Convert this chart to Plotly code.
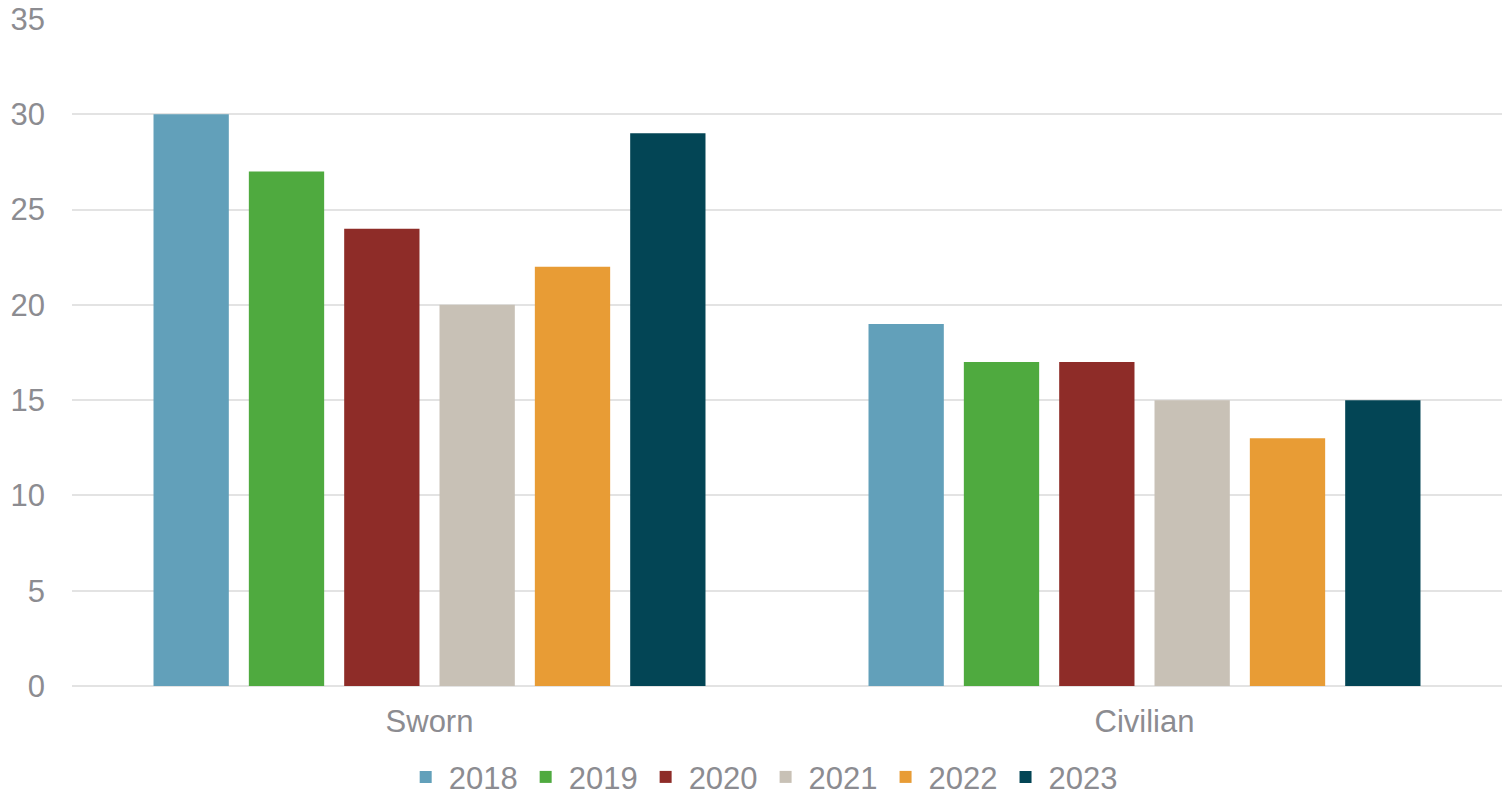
import plotly.graph_objects as go

categories = ["Sworn", "Civilian"]
years = ["2018", "2019", "2020", "2021", "2022", "2023"]
values = {
    "2018": [30, 19],
    "2019": [27, 17],
    "2020": [24, 17],
    "2021": [20, 15],
    "2022": [22, 13],
    "2023": [29, 15],
}
colors = ["#62A0BA", "#4FAA3F", "#8E2C28", "#C8C1B6", "#E89C35", "#034555"]

fig = go.Figure()
for y, c in zip(years, colors):
    fig.add_trace(go.Bar(name=y, x=categories, y=values[y], marker=dict(color=c, line=dict(width=0))))

font_color = "#8C8C91"
fig.update_layout(
    width=1503, height=798,
    margin=dict(l=72, r=1, t=19, b=112, autoexpand=False),
    paper_bgcolor="white", plot_bgcolor="white",
    barmode="group", bargap=0.2, bargroupgap=0.21,
    font=dict(family="Liberation Sans, Arial, sans-serif", color=font_color, size=31),
    showlegend=True,
    legend=dict(orientation="h", x=0.483, xanchor="center", yref="container", y=0.026, yanchor="middle",
                font=dict(size=31, color=font_color), itemwidth=36, traceorder="normal"),
    xaxis=dict(showgrid=False, showline=False, ticks="", tickfont=dict(size=31, color=font_color),
               ticklabelstandoff=14),
    yaxis=dict(range=[0, 35], dtick=5, showgrid=True, gridcolor="#E3E3E3", gridwidth=2,
               zeroline=True, zerolinecolor="#E3E3E3", zerolinewidth=2,
               tickfont=dict(size=31, color=font_color), ticklabelstandoff=26),
)
fig.write_html("out.html")
